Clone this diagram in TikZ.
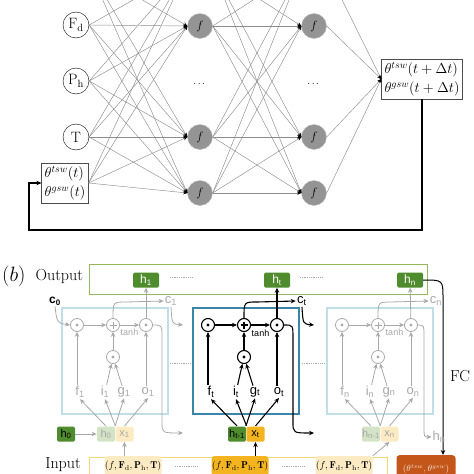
\documentclass[tikz,border=0pt]{standalone}
\usepackage{amsmath}
\usepackage{fontspec}
\newfontfamily\cellfont{Liberation Sans}
\usetikzlibrary{positioning,arrows.meta}

\definecolor{ghost}{HTML}{A8A8A8}
\definecolor{cellpale}{HTML}{BFDEEA}
\definecolor{celldark}{HTML}{3A85A8}
\definecolor{outgreen}{HTML}{95B85C}
\definecolor{hdark}{HTML}{4F8C2E}
\definecolor{hpale}{HTML}{D2E3C6}
\definecolor{xgold}{HTML}{F3B41F}
\definecolor{xpale}{HTML}{FCEBC2}
\definecolor{inyellow}{HTML}{F4D873}
\definecolor{thetaorange}{HTML}{C4561A}

\begin{document}
\begin{tikzpicture}[x=1pt, y=-1pt, >={Stealth[length=5pt,width=4.5pt]}]
    \tikzstyle{innode}=[draw, circle, fill=white, minimum size=26pt, inner sep=0pt, font=\fontsize{15}{17}\selectfont]
    \tikzstyle{hidnode}=[draw=black!25, fill=black!42, circle, minimum size=25pt, inner sep=0pt, font=\fontsize{13}{15}\selectfont]
    \tikzstyle{valbox}=[draw=black!70, fill=white, inner sep=3pt, align=left, font=\fontsize{14}{19}\selectfont]
    \tikzstyle{wire}=[draw=black!45, line width=.45pt, -{Stealth[length=4pt,width=3.5pt,black]}]
    \tikzstyle{hbox}=[fill=hdark, text=white, rounded corners=1.5pt, minimum width=26pt, minimum height=15pt, inner sep=0pt, font=\cellfont\fontsize{12}{12}\selectfont]
    \tikzstyle{inbox}=[rounded corners=1.5pt, minimum width=18pt, minimum height=15pt, inner sep=0pt, font=\cellfont\fontsize{11}{11}\selectfont]
    \tikzstyle{opnode}=[draw, circle, minimum size=13pt, inner sep=0pt]
    \tikzstyle{mulop}=[opnode, path picture={\fill (path picture bounding box.center) circle (1.6pt);}]
    \tikzstyle{addop}=[opnode, path picture={\draw ([xshift=-3.5pt]path picture bounding box.center) -- ([xshift=3.5pt]path picture bounding box.center) ([yshift=-3.5pt]path picture bounding box.center) -- ([yshift=3.5pt]path picture bounding box.center);}]
    \tikzstyle{gate}=[inner sep=1pt, font=\cellfont\fontsize{13}{13}\selectfont]
    \tikzstyle{tuple}=[rounded corners=3pt, minimum width=57pt, minimum height=20pt, inner sep=0pt, font=\fontsize{10}{10}\selectfont]
    \tikzstyle{bigtext}=[font=\fontsize{16}{18}\selectfont]

    \useasboundingbox (0,0) rectangle (474,474);
    \clip (0,0) rectangle (474,474);

    % (a) network
    \node (intop) [innode] at (76,-31) {};
    \node (Fd) [innode] at (76,25) {$\mathrm{F_d}$};
    \node (Ph) [innode] at (76,81) {$\mathrm{P_h}$};
    \node (T) [innode] at (76,137) {$\mathrm{T}$};
    \node (thin) [valbox] at (65,183) {$\theta^{tsw}(t)$\\$\theta^{gsw}(t)$};

    % top row lies above the picture
    \node (haa) [hidnode] at (200,-31) {};
    \node (hba) [hidnode] at (314,-31) {};
    \foreach \y/\k in {26/b, 137/c, 193/d} {
        \node (ha\k) [hidnode] at (200,\y) {$f$};
        \node (hb\k) [hidnode] at (314,\y) {$f$};
    }
    \node (dotsa) at (200,84) {$\cdots$};
    \node (dotsb) at (314,84) {$\cdots$};
    \node (thout) [valbox] at (422,79) {$\theta^{tsw}(t+\Delta t)$\\$\theta^{gsw}(t+\Delta t)$};

    \foreach \s in {intop,Fd,Ph,T,thin}
        \foreach \t in {a,b,c,d}
            \draw[wire] (\s.east) -- (ha\t.west);
    \foreach \s in {a,b,c,d} {
        \foreach \t in {a,b,c,d}
            \draw[wire] (ha\s.east) -- (hb\t.west);
        \draw[wire] (hb\s.east) -- (thout.west);
    }

    \coordinate (loopturn) at (29,230);
    \draw[line width=1.3pt, ->] (thout.south) |- (loopturn) |- (thin.west);

    % (b) LSTM
    \node (outbox) [draw=outgreen, line width=1pt, minimum width=338pt, minimum height=30pt, inner sep=0pt] at (258,279) {};
    \node (outlabel) [bigtext, left=2pt of outbox, yshift=3pt] {Output};
    \node (blabel) [left=3pt of outlabel, font=\fontsize{20}{22}\selectfont] {$(b)$};
    \node (ho1) [hbox] at (146,280) {h\textsubscript{1}};
    \node (hot) [hbox] at (277,280) {h\textsubscript{t}};
    \node (hon) [hbox] at (410,280) {h\textsubscript{n}};
    \draw[ghost, densely dotted, line width=.8pt] (170,277) -- (192,277) (300,277) -- (323,277);

    \node (inbox) [draw=inyellow, line width=1pt, anchor=north west, minimum width=298pt, minimum height=30pt, inner sep=0pt] at (89,457) {};
    \node (inlabel) [bigtext] at (63,465) {Input};
    \node (tup1) [tuple, fill=xpale] at (133,466) {$(f,\mathbf{F}_\mathrm{d},\mathbf{P}_\mathrm{h},\mathbf{T})$};
    \node (tupt) [tuple, fill=xgold] at (240,466) {$(f,\mathbf{F}_\mathrm{d},\mathbf{P}_\mathrm{h},\mathbf{T})$};
    \node (tupn) [tuple, fill=xpale] at (344,466) {$(f,\mathbf{F}_\mathrm{d},\mathbf{P}_\mathrm{h},\mathbf{T})$};
    \draw[ghost, densely dotted, line width=.8pt] (175,466) -- (198,466) (282,466) -- (305,466);
    \node (thetaend) [fill=thetaorange, rounded corners=3pt, minimum width=59pt, minimum height=28pt, anchor=north, text=white!85!thetaorange, font=\fontsize{9}{9}\selectfont] at (426,455) {$(\theta^{tsw},\theta^{gsw})$};
    \node (fclabel) [bigtext] at (460,376) {FC};
    \coordinate (fcturn) at (443,298);
    \draw[line width=1pt, ->] (hon.east) .. controls (443,280) .. (fcturn) -- (fcturn |- thetaend.north);

    \node (c0) [gate, text=black, font=\cellfont\bfseries\fontsize{12}{12}\selectfont] at (55,301) {c\textsubscript{0}};
    \node (h0) [inbox, fill=hdark, text=black] at (66,434) {h\textsubscript{0}};

    \foreach \dx/\col/\lw/\frame/\hf/\xf/\hp/\s in {0/ghost/.8pt/cellpale/hpale/xpale/0/1, 131/black/1.1pt/celldark/hdark/xgold/t-1/t, 265/ghost/.8pt/cellpale/hpale/xpale/n-1/n} {
        \begin{scope}[xshift=\dx pt, color=\col, line width=\lw]
            \node (cell\s) [draw=\frame, line width=1.2pt, minimum size=106pt, inner sep=0pt] at (115,361) {};
            \node (fm\s) [mulop] at (77,325) {};
            \node (ad\s) [addop] at (113,325) {};
            \node (om\s) [mulop] at (146,325) {};
            \node (im\s) [mulop] at (113,357) {};
            \node (fl\s) [gate] at (80,392) {f\textsubscript{\s}};
            \node (il\s) [gate] at (105,392) {i\textsubscript{\s}};
            \node (gl\s) [gate] at (124,392) {g\textsubscript{\s}};
            \node (ol\s) [gate] at (148,392) {o\textsubscript{\s}};
            \node (cl\s) [gate] at (171,301) {c\textsubscript{\s}};
            \node (hp\s) [inbox, fill=\hf] at (106,434) {h\textsubscript{\hp}};
            \node (x\s) [inbox, fill=\xf] at (124.5,434) {x\textsubscript{\s}};
            % gates
            \draw[->] (fl\s.north -| fm\s) -- (fm\s);
            \draw[->] (il\s) -- (im\s);
            \draw[->] (gl\s) -- (im\s);
            \draw[->] (ol\s.north -| om\s) -- (om\s);
            \draw[->] (im\s) -- (ad\s);
            \draw[->] (fm\s) -- (ad\s);
            \draw[->] (ad\s) -- node (tanh\s) [below=4pt, inner sep=0pt, font=\cellfont\fontsize{9}{9}\selectfont] {tanh} (om\s);
            \draw[->] (ad\s.north) .. controls (113,302) .. (126,302) -- (cl\s.west);
            \draw[->] (om\s) -- (ho\s);
            % inputs
            \draw[->] (hp\s.north) -- (fl\s.south);
            \draw[->] (hp\s.north east) -- (il\s.south);
            \draw[->] (x\s.north west) -- (gl\s.south);
            \draw[->] (x\s.north) -- (ol\s.south);
        \end{scope}
    }

    \draw[ghost, line width=.8pt, ->] (h0) -- (hp1);
    \draw[ghost, line width=.8pt, ->] (c0.south) .. controls (57,323) .. (fm1.west);
    \draw[ghost, line width=.8pt, ->] (tup1.north -| x1) -- (x1);
    \draw[line width=1.1pt, ->] (tupt.north -| xt) -- (xt);
    \draw[ghost, line width=.8pt, ->] (tupn.north east) -- (xn.south);

    \coordinate (cgap1) at (183,325);
    \coordinate (cgapt) at (314,325);
    \coordinate (hgap1) at (183,433);
    \coordinate (hgapt) at (314,433);
    \node (hnlab) [gate, text=ghost] at (439,437) {h\textsubscript{n}};
    \draw[ghost, line width=.8pt, ->] (cl1.south) .. controls (172,324) .. (cgap1);
    \draw[line width=1.1pt, ->] (clt.south) .. controls (303,324) .. (cgapt);
    \draw[ghost, line width=.8pt, ->] (om1.east) .. controls (162,325) .. (162,338) -- (162,422) .. controls (162,433) .. (hgap1);
    \draw[line width=1.1pt, ->] (omt.east) .. controls (293,325) .. (293,338) -- (293,422) .. controls (293,433) .. (hgapt);
    \draw[ghost, line width=.8pt, ->] (omn.east) .. controls (424,325) .. (424,338) -- (424,425) .. controls (424,437) .. (hnlab.west);
    \draw[ghost, densely dotted, line width=.8pt] (170,363) -- (190,363) (302,363) -- (324,363);
\end{tikzpicture}
\end{document}
